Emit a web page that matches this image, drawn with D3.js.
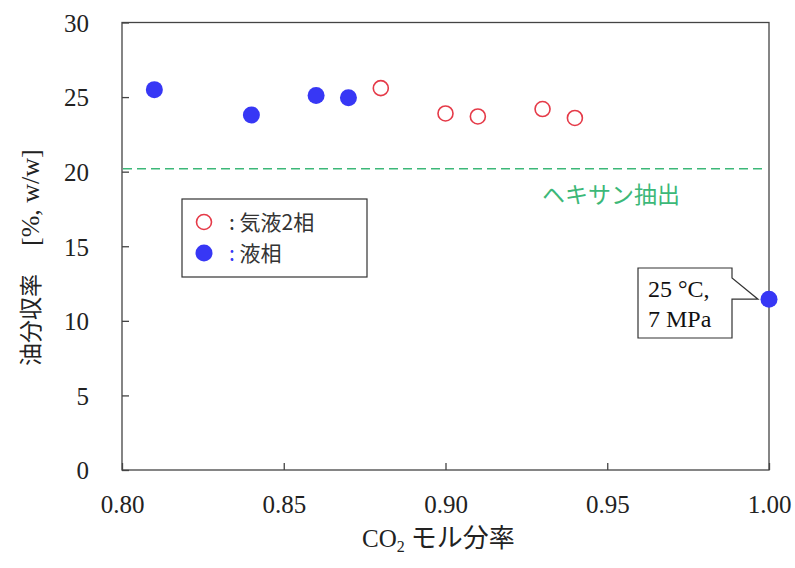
<!DOCTYPE html>
<html>
<head>
<meta charset="utf-8">
<script src="https://cdn.jsdelivr.net/npm/d3@7"></script>
<style>
  html, body { margin: 0; padding: 0; background: #fff; }
  svg { display: block; }
</style>
</head>
<body>
<svg id="chart" width="795" height="568"></svg>
<script>
// CO2 mole fraction vs. oil recovery
const twoPhaseX = [0.88, 0.90, 0.91, 0.93, 0.94];
const twoPhaseY = [25.6, 23.9, 23.7, 24.2, 23.6];
const liquidX = [0.81, 0.84, 0.86, 0.87, 1.00];
const liquidY = [25.5, 23.8, 25.1, 24.95, 11.45];
const hexaneYield = 20.2;
const xTicks = [0.80, 0.85, 0.90, 0.95, 1.00];
const yTicks = [0, 5, 10, 15, 20, 25, 30];

const serif = "'Liberation Serif', 'Times New Roman', 'DejaVu Serif', serif";
const sans = "'Noto Sans CJK JP', 'Noto Sans', sans-serif";
const axisColor = "#444";
const blue = "#3737f5";
const red = "#e53a48";
const green = "#3cb878";

const svg = d3.select("#chart");
const plotL = 122, plotR = 769, plotT = 22.5, plotB = 470;

const x = d3.scaleLinear().domain([0.80, 1.00]).range([plotL, plotR]);
const y = d3.scaleLinear().domain([0, 30]).range([plotB, plotT]);

// plot frame
svg.append("rect")
  .attr("x", plotL).attr("y", plotT)
  .attr("width", plotR - plotL).attr("height", plotB - plotT)
  .attr("fill", "none").attr("stroke", axisColor).attr("stroke-width", 1.3);

// axes with inward ticks
const xAxis = svg.append("g").attr("transform", `translate(0,${plotB})`)
  .call(d3.axisBottom(x).tickValues(xTicks).tickSizeInner(-7).tickSizeOuter(0)
    .tickPadding(26).tickFormat(d3.format(".2f")));
const yAxis = svg.append("g").attr("transform", `translate(${plotL},0)`)
  .call(d3.axisLeft(y).tickValues(yTicks).tickSizeInner(-7).tickSizeOuter(0)
    .tickPadding(33).tickFormat(d3.format("d")));
[xAxis, yAxis].forEach(a => {
  a.attr("font-family", null).attr("font-size", null);
  a.select(".domain").remove();
  a.selectAll(".tick line").attr("stroke", axisColor).attr("stroke-width", 1.3);
  a.selectAll(".tick text").attr("fill", "#222")
    .attr("font-family", serif).attr("font-size", 25);
});
xAxis.selectAll(".tick text").attr("dy", "0.68em");
yAxis.selectAll(".tick text").attr("dy", "0.35em");

// hexane extraction reference line
svg.append("line")
  .attr("x1", plotL + 1).attr("x2", x(0.9985))
  .attr("y1", y(hexaneYield)).attr("y2", y(hexaneYield))
  .attr("stroke", green).attr("stroke-width", 1.5)
  .attr("stroke-dasharray", "9,5");
svg.append("text")
  .attr("x", 542).attr("y", 203)
  .attr("fill", green)
  .attr("font-family", sans).attr("font-size", 23)
  .text("ヘキサン抽出");

// callout for the pure CO2 point
const tip = [x(1.00) - 11, y(liquidY[4])];
const bx0 = 638, bx1 = 732, by0 = 268, by1 = 338;
svg.append("path")
  .attr("d", `M${bx0},${by0} H${bx1} V${by0 + 10} L${tip[0]},${tip[1]} H${bx1} V${by1} H${bx0} Z`)
  .attr("fill", "#fff").attr("stroke", "#333").attr("stroke-width", 1.2);
svg.append("text").attr("x", 648).attr("y", 297)
  .attr("font-family", serif).attr("font-size", 24).attr("fill", "#111")
  .text("25 °C,");
svg.append("text").attr("x", 648).attr("y", 327)
  .attr("font-family", serif).attr("font-size", 24).attr("fill", "#111")
  .text("7 MPa");

// data points
svg.append("g").selectAll("circle")
  .data(twoPhaseX.map((d, i) => [d, twoPhaseY[i]]))
  .join("circle")
  .attr("cx", d => x(d[0])).attr("cy", d => y(d[1])).attr("r", 7.5)
  .attr("fill", "none").attr("stroke", red).attr("stroke-width", 1.6);
svg.append("g").selectAll("circle")
  .data(liquidX.map((d, i) => [d, liquidY[i]]))
  .join("circle")
  .attr("cx", d => x(d[0])).attr("cy", d => y(d[1])).attr("r", 8.5)
  .attr("fill", blue);

// legend
const lg = svg.append("g");
lg.append("rect").attr("x", 182).attr("y", 199).attr("width", 185).attr("height", 78)
  .attr("fill", "#fff").attr("stroke", "#333").attr("stroke-width", 1.2);
lg.append("circle").attr("cx", 204).attr("cy", 222).attr("r", 7.5)
  .attr("fill", "none").attr("stroke", red).attr("stroke-width", 1.6);
lg.append("circle").attr("cx", 204).attr("cy", 253).attr("r", 8.5).attr("fill", blue);
lg.append("text").attr("x", 229).attr("y", 230)
  .attr("font-family", sans).attr("font-size", 21).attr("fill", "#333")
  .text(": 気液2相");
const t2 = lg.append("text").attr("x", 229).attr("y", 261)
  .attr("font-family", sans).attr("font-size", 21).attr("fill", "#333");
t2.append("tspan").attr("fill", blue).text(":");
t2.append("tspan").text(" 液相");

// axis titles
const xt = svg.append("text").attr("x", 362).attr("y", 547).attr("fill", "#222");
xt.append("tspan").attr("font-family", serif).attr("font-size", 25).text("CO");
xt.append("tspan").attr("font-family", serif).attr("font-size", 16).attr("dy", 5).text("2");
xt.append("tspan").attr("font-family", sans).attr("font-size", 26)
  .attr("dy", -5).attr("dx", 6).text("モル分率");

const yt = svg.append("text")
  .attr("transform", "translate(39,366) rotate(-90)")
  .attr("fill", "#222");
yt.append("tspan").attr("font-family", sans).attr("font-size", 23).text("油分収率");
yt.append("tspan").attr("font-family", serif).attr("font-size", 26).attr("dx", 28)
  .text("[%, w/w]");
</script>
</body>
</html>
